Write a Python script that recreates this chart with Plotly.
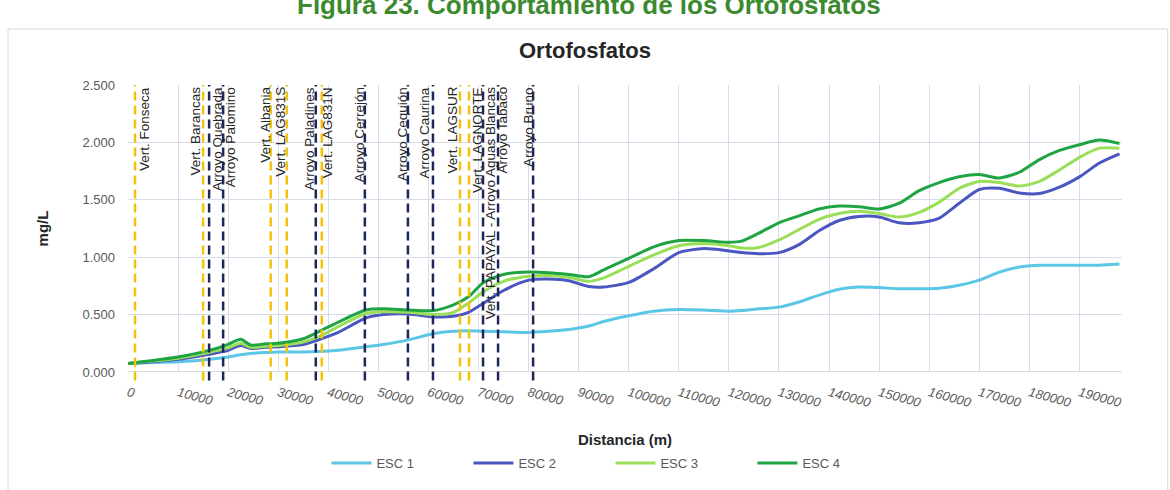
import plotly.graph_objects as go

# ---------------- data ----------------
distancia = [0, 5000, 10000, 15000, 18000, 20000, 22500, 24500, 27500, 30000,
             35000, 38000, 42000, 47500, 51000, 56000, 61000, 65000, 68000, 71000,
             75000, 80000, 84000, 88000, 92000, 95000, 100000, 105000, 110000, 115000,
             120000, 122500, 126000, 130000, 134000, 138000, 142000, 146000, 150000, 154000,
             158000, 162000, 166000, 170000, 174000, 178000, 182000, 186000, 190000, 194000,
             198000]

esc1 = [0.075, 0.082, 0.09, 0.105, 0.12, 0.13, 0.15, 0.162, 0.17, 0.175,
        0.175, 0.178, 0.19, 0.22, 0.24, 0.28, 0.335, 0.355, 0.36, 0.355,
        0.35, 0.345, 0.355, 0.37, 0.40, 0.44, 0.49, 0.53, 0.545, 0.54,
        0.53, 0.535, 0.55, 0.565, 0.61, 0.67, 0.72, 0.74, 0.735, 0.725,
        0.725, 0.73, 0.755, 0.80, 0.87, 0.915, 0.93, 0.93, 0.93, 0.93,
        0.94]

esc2 = [0.075, 0.09, 0.11, 0.145, 0.17, 0.19, 0.23, 0.205, 0.215, 0.22,
        0.24, 0.28, 0.345, 0.47, 0.50, 0.505, 0.48, 0.485, 0.52, 0.60,
        0.71, 0.80, 0.81, 0.795, 0.745, 0.74, 0.78, 0.90, 1.04, 1.075,
        1.055, 1.04, 1.03, 1.04, 1.11, 1.23, 1.32, 1.355, 1.35, 1.30,
        1.30, 1.34, 1.47, 1.59, 1.60, 1.56, 1.555, 1.61, 1.70, 1.82,
        1.90]

esc3 = [0.075, 0.095, 0.12, 0.16, 0.19, 0.21, 0.25, 0.215, 0.225, 0.23,
        0.26, 0.305, 0.395, 0.51, 0.525, 0.52, 0.50, 0.52, 0.60, 0.70,
        0.79, 0.835, 0.84, 0.825, 0.79, 0.82, 0.92, 1.02, 1.10, 1.12,
        1.10, 1.08, 1.085, 1.15, 1.24, 1.33, 1.38, 1.40, 1.38, 1.35,
        1.39, 1.48, 1.60, 1.66, 1.65, 1.62, 1.66, 1.76, 1.87, 1.95,
        1.95]

esc4 = [0.075, 0.10, 0.13, 0.175, 0.21, 0.24, 0.285, 0.235, 0.245, 0.25,
        0.29, 0.35, 0.435, 0.54, 0.55, 0.54, 0.535, 0.585, 0.655, 0.78,
        0.85, 0.87, 0.865, 0.85, 0.83, 0.89, 0.99, 1.09, 1.145, 1.145,
        1.13, 1.14, 1.21, 1.30, 1.36, 1.42, 1.445, 1.44, 1.42, 1.47,
        1.58, 1.65, 1.70, 1.72, 1.69, 1.74, 1.85, 1.93, 1.98, 2.02,
        1.99]

series_names = ["ESC 1", "ESC 2", "ESC 3", "ESC 4"]

estaciones = ["Vert. Fonseca", "Vert. Barancas", "Arroyo Quebrada", "Arroyo Palomino",
              "Vert. Albania", "Vert. LAG831S", "Arroyo Paladines", "Vert. LAG831N",
              "Arroyo Cerrejón", "Arroyo Cequión", "Arroyo Caurina", "Vert. LAGSUR",
              "Vert. LAGNORTE", "Vert. PAPAYAL - Arroyo Aguas Blancas", "Arroyo Tabaco",
              "Arroyo Bruno"]
est_dist = [1400, 15000, 16200, 19000, 28500, 31700, 37500, 38700, 47300, 55900,
            60900, 66300, 68100, 70900, 73900, 80900]
est_tipo = ["Vert", "Vert", "Arroyo", "Arroyo", "Vert", "Vert", "Arroyo", "Vert",
            "Arroyo", "Arroyo", "Arroyo", "Vert", "Vert", "Arroyo", "Arroyo", "Arroyo"]

x_ticks = list(range(0, 190001, 10000))
y_ticks = [0, 0.5, 1.0, 1.5, 2.0, 2.5]

# ---------------- style ----------------
series_colors = ["#5BC6E6", "#4B57C0", "#9ADF57", "#1FA443"]
tipo_color = {"Vert": "#F4C20D", "Arroyo": "#1D2858"}
label_shift = [9, -8, 8, 7, -6, -7, -6, 6, -5, -6, -8, -8, 8, 7, 4, -5]
FONT = "Liberation Sans, Arial, sans-serif"

fig = go.Figure()

for name, ys, col in zip(series_names, [esc1, esc2, esc3, esc4], series_colors):
    fig.add_trace(go.Scatter(x=distancia, y=ys, mode="lines", name=name,
                             line=dict(color=col, width=3, shape="spline", smoothing=0.7)))

for name, d, t, dx in zip(estaciones, est_dist, est_tipo, label_shift):
    fig.add_shape(type="line", xref="x", yref="y domain", x0=d, x1=d, y0=-0.03, y1=1,
                  line=dict(color=tipo_color[t], width=2.5, dash="9px,5px"), layer="above")
    fig.add_annotation(x=d, xref="x", y=1, yref="y domain", text=name, textangle=-90,
                       xanchor="center", yanchor="top", xshift=dx, showarrow=False,
                       font=dict(family=FONT, size=13.5, color="#262626"))

# chart frame
fig.add_shape(type="rect", xref="paper", yref="paper", x0=-0.1207, x1=1.046,
              y0=-0.45, y1=1.195, line=dict(color="#D9D9D9", width=1), layer="below")

# figure caption (partly cut at top, as in the source document)
fig.add_annotation(text="Figura 23. Comportamiento de los Ortofosfatos", xref="paper", yref="paper",
                   x=0.4638, y=1.218, xanchor="center", yanchor="bottom", showarrow=False,
                   font=dict(family=FONT, size=26, color="#3C8A2E", weight="bold"))

fig.update_layout(
    width=1170, height=490,
    margin=dict(l=128, r=48, t=85, b=118, autoexpand=False),
    paper_bgcolor="white", plot_bgcolor="white",
    font=dict(family=FONT, size=12, color="#595959"),
    title=dict(text="<b>Ortofosfatos</b>", x=0.5, xanchor="center", y=0.898, yanchor="middle",
               font=dict(family=FONT, size=22, color="#262626")),
    showlegend=True,
    legend=dict(orientation="h", xref="container", yref="container",
                x=0.279, xanchor="left", y=0.055, yanchor="middle",
                entrywidth=87, entrywidthmode="pixels", itemwidth=40,
                font=dict(family=FONT, size=13, color="#595959"),
                bgcolor="rgba(0,0,0,0)"),
    hovermode=False,
)

fig.update_xaxes(range=[0, 198500], tickvals=x_ticks, ticktext=[str(v) for v in x_ticks],
                 tickangle=15, showgrid=True, gridcolor="#DADAE8", gridwidth=1,
                 zeroline=False, showline=False, ticks="", ticklabelstandoff=10,
                 automargin=False,
                 tickfont=dict(family=FONT, size=13, color="#595959", style="italic"),
                 title=dict(text="<b>Distancia (m)</b>", standoff=26,
                            font=dict(family=FONT, size=15, color="#262626")))
fig.update_yaxes(range=[0, 2.5], tickvals=y_ticks, tickformat=".3f",
                 showgrid=True, gridcolor="#DADAE8", gridwidth=1,
                 zeroline=False, showline=False, ticks="", ticklabelstandoff=12,
                 automargin=False,
                 tickfont=dict(family=FONT, size=13, color="#595959"),
                 title=dict(text="<b>mg/L</b>", standoff=30,
                            font=dict(family=FONT, size=15, color="#262626")))

# x-axis base line at 0
fig.add_shape(type="line", xref="x domain", yref="y", x0=0, x1=1, y0=0, y1=0,
              line=dict(color="#D0D0D0", width=1.5), layer="below")

fig.write_html("out.html", config={"displayModeBar": False},
               post_script="document.body.style.margin='0px';")
